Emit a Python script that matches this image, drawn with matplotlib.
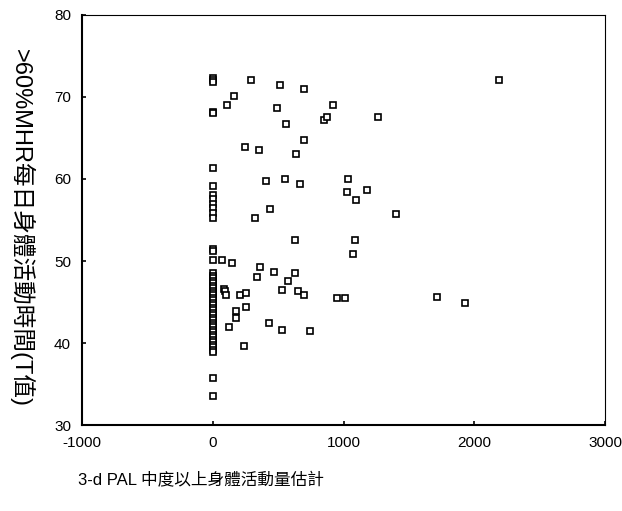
import matplotlib
matplotlib.use("Agg")
import matplotlib.pyplot as plt

plt.rcParams['font.family'] = ['Liberation Sans', 'Noto Sans CJK TC', 'DejaVu Sans']
plt.rcParams['axes.unicode_minus'] = False

# people with no moderate activity (x = 0)
zero_y = [72.3, 72.0, 71.8, 68.2, 68.0, 61.3, 59.2, 58.0, 57.5, 56.95, 56.4,
          55.8, 55.3, 51.5, 51.25, 50.1,
          48.5, 48.2, 47.9, 47.6, 47.3, 47.0, 46.7, 46.4, 46.1, 45.8, 45.5,
          45.2, 44.9, 44.6, 44.3, 44.0, 43.7, 43.4, 43.1, 42.8, 42.5, 42.2,
          41.9, 41.6, 41.3, 41.0, 40.7, 40.4, 40.1, 39.8, 39.5, 39.2, 38.9,
          35.7, 33.5]

# everyone else
pal_x = [295, 514, 700, 160, 109, 489, 920, 557, 853, 871, 1259, 2187,
         695, 247, 354, 637, 404, 553, 670, 1034, 1027, 1175, 1093, 440,
         325, 1399, 631, 1083, 1073, 73, 149, 361, 471, 629, 338, 575,
         532, 652, 695, 86, 91, 103, 208, 251, 950, 1014, 1712, 1929,
         251, 175, 175, 127, 430, 527, 744, 239]
mhr_y = [72.1, 71.5, 70.9, 70.1, 69.0, 68.7, 69.0, 66.7, 67.2, 67.5, 67.5, 72.0,
         64.8, 63.9, 63.5, 63.0, 59.8, 60.0, 59.4, 60.0, 58.4, 58.7, 57.4, 56.3,
         55.3, 55.7, 52.6, 52.6, 50.9, 50.1, 49.8, 49.3, 48.7, 48.6, 48.1, 47.6,
         46.5, 46.3, 45.9, 46.6, 46.4, 45.9, 45.9, 46.1, 45.45, 45.45, 45.6, 44.9,
         44.4, 43.9, 43.0, 41.9, 42.4, 41.6, 41.5, 39.7]

x_ticks = [-1000, 0, 1000, 2000, 3000]
y_ticks = [30, 40, 50, 60, 70, 80]

fig = plt.figure(figsize=(6.22, 5.11), dpi=100)
ax = fig.add_axes([0.132, 0.168, 0.841, 0.803])

ax.plot([0] * len(zero_y), zero_y, 's', mfc='white', mec='black', ms=4.5, mew=1.2)
ax.plot(pal_x, mhr_y, 's', mfc='white', mec='black', ms=4.5, mew=1.2)

ax.set_xlim(-1000, 3000)
ax.set_ylim(30, 80)
ax.set_xticks(x_ticks)
ax.set_yticks(y_ticks)
ax.tick_params(direction='in', length=3, width=1.2, labelsize=11, pad=8)
for s in ax.spines.values():
    s.set_linewidth(0.8)
ax.spines['left'].set_linewidth(1.5)
ax.spines['bottom'].set_linewidth(1.5)

fig.text(0.125, 0.06, '3-d PAL 中度以上身體活動量估計', fontsize=12, ha='left', va='center')
fig.text(0.034, 0.554, '>60%MHR每日身體活動時間(T值)', fontsize=17, rotation=270,
         ha='center', va='center')

fig.savefig('out.png', dpi=100)
